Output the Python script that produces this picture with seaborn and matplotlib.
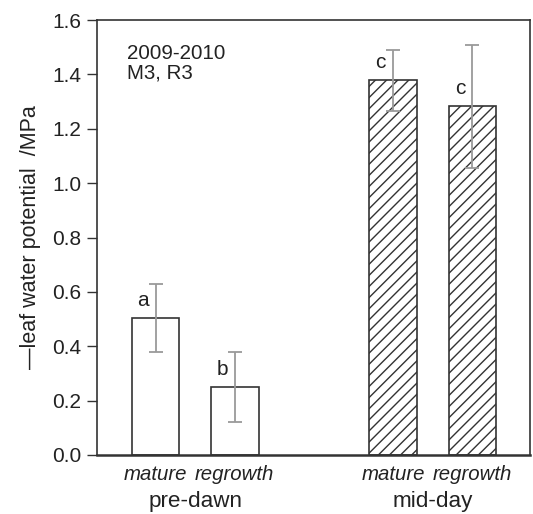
import matplotlib
matplotlib.use("Agg")
import matplotlib.pyplot as plt
import matplotlib.transforms as mtransforms
import seaborn as sns
import pandas as pd

# ---- data ----
periods = ["pre-dawn", "pre-dawn", "mid-day", "mid-day"]
stages = ["mature", "regrowth", "mature", "regrowth"]
values = [0.505, 0.25, 1.378, 1.282]
err_low = [0.38, 0.12, 1.265, 1.055]
err_high = [0.63, 0.38, 1.49, 1.51]
letters = ["a", "b", "c", "c"]
y_ticks = [0.0, 0.2, 0.4, 0.6, 0.8, 1.0, 1.2, 1.4, 1.6]
annotation = "2009-2010\nM3, R3"
y_label = "\u2014leaf water potential  /MPa"

df = pd.DataFrame({"period": periods, "stage": stages, "value": values})

sns.set_style("ticks")
plt.rcParams["font.family"] = ["Liberation Sans", "DejaVu Sans"]
plt.rcParams["hatch.linewidth"] = 1.0
plt.rcParams["hatch.color"] = "#111111"

fig = plt.figure(figsize=(5.33, 5.14), dpi=100)
ax = fig.add_axes([0.1814, 0.1148, 0.9944 - 0.1814, 0.961 - 0.1148])

sns.barplot(data=df, x="period", y="value", hue="stage",
            order=["pre-dawn", "mid-day"], hue_order=["mature", "regrowth"],
            width=0.667, gap=0.4, fill=True,
            palette=["white", "white"], edgecolor="#333333", linewidth=1.2,
            errorbar=None, legend=False, ax=ax)

bars = sorted([p for p in ax.patches if p.get_width() > 0], key=lambda p: p.get_x())
centers = []
for p, per in zip(bars, periods):
    p.set_facecolor("white")
    p.set_edgecolor("#333333")
    if per == "mid-day":
        p.set_hatch("///")
    centers.append(p.get_x() + p.get_width() / 2)

for xc, v, lo, hi, let in zip(centers, values, err_low, err_high, letters):
    ax.errorbar([xc], [v], yerr=[[v - lo], [hi - v]], fmt="none",
                ecolor="#9a9a9a", elinewidth=1.3, capsize=5, capthick=1.3, zorder=5)
    ax.text(xc - 0.052, v + 0.03, let, ha="center", va="bottom", fontsize=15, color="#222222")

ax.set_xlim(-0.415, 1.41)
ax.set_ylim(0, 1.6)
ax.set_yticks(y_ticks)
ax.set_yticklabels([f"{t:.1f}" for t in y_ticks], fontsize=15, color="#222222")
ax.set_xticks(centers)
ax.set_xticklabels(stages, fontsize=14.7, style="italic", color="#222222")
ax.tick_params(axis="x", length=0, pad=7)
ax.tick_params(axis="y", length=7, width=1, color="#333333", pad=4)
ax.set_xlabel("")
ax.set_ylabel(y_label, fontsize=15.5, color="#222222", labelpad=8)

for s in ax.spines.values():
    s.set_visible(True)
    s.set_color("#333333")
    s.set_linewidth(1.2)
ax.spines["bottom"].set_linewidth(1.8)

trans = mtransforms.blended_transform_factory(ax.transData, ax.transAxes)
for grp in ["pre-dawn", "mid-day"]:
    xs = [c for c, per in zip(centers, periods) if per == grp]
    ax.text(sum(xs) / len(xs), -0.108, grp, transform=trans, ha="center", va="center",
            fontsize=16.2, color="#222222")

ax.text(0.07, 0.945, annotation, transform=ax.transAxes, ha="left", va="top",
        fontsize=14.8, color="#222222", linespacing=1.05)

fig.savefig("out.png", dpi=100)
